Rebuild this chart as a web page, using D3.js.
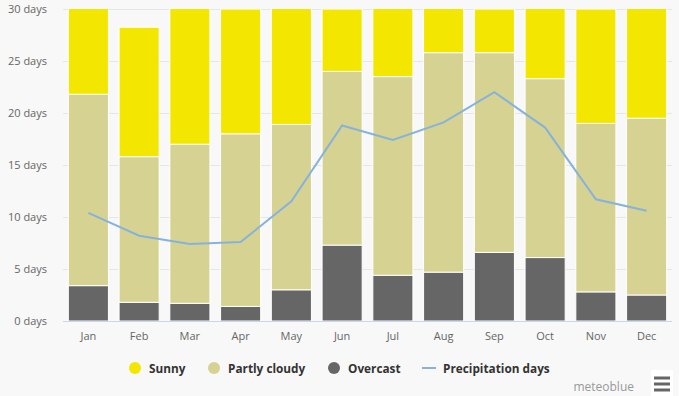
<!DOCTYPE html>
<html>
<head>
<meta charset="utf-8">
<script src="https://cdn.jsdelivr.net/npm/d3@7"></script>
<style>
  body { margin: 0; background: #f8f8f8; }
  svg { display: block; font-family: "Open Sans", "DejaVu Sans", sans-serif; }
</style>
</head>
<body>
<svg id="chart" width="679" height="396"></svg>
<script>
// monthly values (days)
var months = ["Jan", "Feb", "Mar", "Apr", "May", "Jun", "Jul", "Aug", "Sep", "Oct", "Nov", "Dec"]
var overcast = [3.4, 1.8, 1.7, 1.4, 3.0, 7.3, 4.4, 4.7, 6.6, 6.1, 2.8, 2.5]
var partly = [18.4, 14.0, 15.3, 16.6, 15.9, 16.7, 19.1, 21.1, 19.2, 17.2, 16.2, 17.0]
var sunny = [9.2, 12.45, 14.0, 12.0, 12.1, 6.0, 7.5, 5.2, 4.2, 7.7, 11.0, 11.5]
var precip = [10.4, 8.2, 7.4, 7.6, 11.5, 18.8, 17.4, 19.1, 22.0, 18.6, 11.7, 10.6]
var yTicks = [0, 5, 10, 15, 20, 25, 30]

var colors = { sunny: "#f3e600", partly: "#d6d292", overcast: "#666666", precip: "#86b2dc" }

var svg = d3.select("#chart")
var plotL = 63, plotR = 672, plotT = 9, plotB = 321

var x = d3.scaleBand().domain(months).range([plotL, plotR]).paddingInner(0.21).paddingOuter(0.105)
var y = d3.scaleLinear().domain([0, 30]).range([plotB, plotT])

svg.append("defs").append("clipPath").attr("id", "plot")
    .append("rect").attr("x", plotL).attr("y", plotT).attr("width", plotR - plotL).attr("height", plotB - plotT)

// grid
svg.append("g").selectAll("line").data(yTicks.slice(1)).enter().append("line")
    .attr("x1", plotL).attr("x2", plotR)
    .attr("y1", d => y(d) + 0.5).attr("y2", d => y(d) + 0.5)
    .attr("stroke", "#e6e6e6")

// y labels
svg.append("g").selectAll("text").data(yTicks).enter().append("text")
    .attr("x", 47).attr("y", d => y(d) + 4)
    .attr("text-anchor", "end")
    .attr("font-size", 11).attr("fill", "#666")
    .text(d => d + " days")

// stacked bars
var rows = months.map((m, i) => ({ month: m, overcast: overcast[i], partly: partly[i], sunny: sunny[i] }))
var stack = d3.stack().keys(["overcast", "partly", "sunny"])(rows)

svg.append("g").attr("clip-path", "url(#plot)")
    .selectAll("g").data(stack).enter().append("g")
    .attr("fill", d => colors[d.key])
    .selectAll("rect").data(d => d).enter().append("rect")
    .attr("x", d => x(d.data.month))
    .attr("width", x.bandwidth())
    .attr("y", d => y(d[1]))
    .attr("height", d => y(d[0]) - y(d[1]))
    .attr("stroke", "#ffffff").attr("stroke-width", 1)

// x axis baseline
svg.append("line")
    .attr("x1", plotL).attr("x2", plotR)
    .attr("y1", plotB + 0.5).attr("y2", plotB + 0.5)
    .attr("stroke", "#ccd6eb")

svg.append("g").selectAll("text").data(months).enter().append("text")
    .attr("x", d => x(d) + x.bandwidth() / 2).attr("y", 340)
    .attr("text-anchor", "middle")
    .attr("font-size", 11).attr("fill", "#666")
    .text(d => d)

// precipitation line
var line = d3.line()
    .x((d, i) => x(months[i]) + x.bandwidth() / 2)
    .y(d => y(d))

svg.append("path").datum(precip)
    .attr("d", line)
    .attr("fill", "none")
    .attr("stroke", colors.precip)
    .attr("stroke-width", 2)

// legend
var legend = [
    { name: "Sunny", key: "sunny", x: 135 },
    { name: "Partly cloudy", key: "partly", x: 214 },
    { name: "Overcast", key: "overcast", x: 334 },
    { name: "Precipitation days", key: "precip", x: 429 }
]
var lg = svg.append("g").selectAll("g").data(legend).enter().append("g")
lg.filter(d => d.key != "precip").append("circle")
    .attr("cx", d => d.x).attr("cy", 368).attr("r", 6)
    .attr("fill", d => colors[d.key])
lg.filter(d => d.key == "precip").append("line")
    .attr("x1", d => d.x - 7).attr("x2", d => d.x + 7)
    .attr("y1", 368).attr("y2", 368)
    .attr("stroke", colors.precip).attr("stroke-width", 2)
lg.append("text")
    .attr("x", d => d.x + 14).attr("y", 372.5)
    .attr("font-size", 11.8).attr("font-weight", "bold").attr("fill", "#333")
    .text(d => d.name)

// credits + menu
svg.append("text")
    .attr("x", 634).attr("y", 391)
    .attr("text-anchor", "end")
    .attr("font-size", 12).attr("fill", "#999")
    .text("meteoblue")

var menu = svg.append("g")
menu.append("rect").attr("x", 651).attr("y", 370).attr("width", 22).attr("height", 26).attr("fill", "#ffffff")
menu.selectAll("line").data([378, 384, 390]).enter().append("line")
    .attr("x1", 654).attr("x2", 670)
    .attr("y1", d => d).attr("y2", d => d)
    .attr("stroke", "#666").attr("stroke-width", 3)
</script>
</body>
</html>
